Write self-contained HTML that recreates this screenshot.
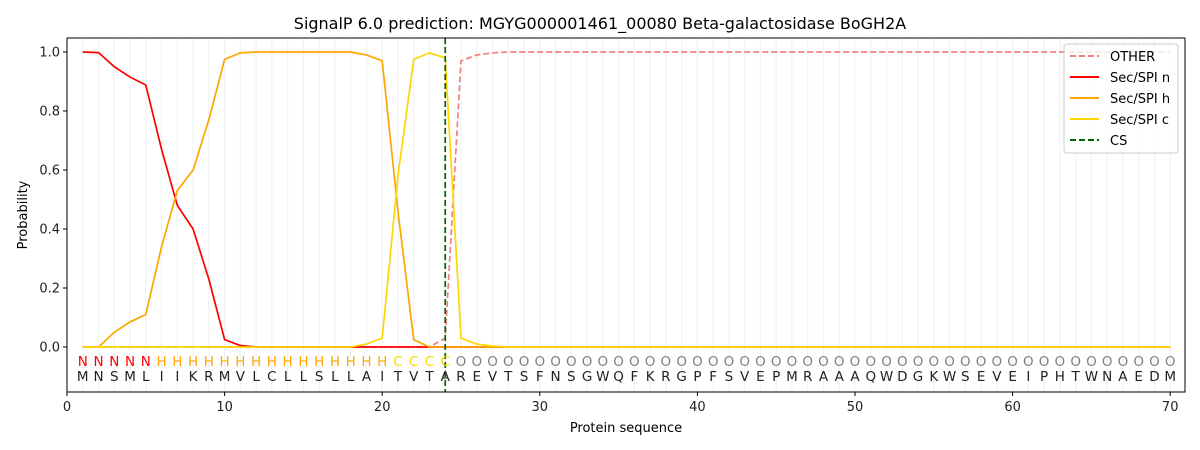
<!DOCTYPE html>
<html><head><meta charset="utf-8"><style>body{margin:0;background:#fff}svg{display:block;font-family:"DejaVu Sans","Liberation Sans",sans-serif}</style></head>
<body>
<svg id="s" width="1200" height="450" xmlns="http://www.w3.org/2000/svg">
<rect width="1200" height="450" fill="#fff"/>
<g id="grid"></g>
<g id="lines"></g>
<g id="letters" font-size="13.5" text-anchor="middle"></g>
<rect x="67" y="38" width="1118" height="354" fill="none" stroke="#000" stroke-width="1"/>
<g id="ticks" font-size="13" fill="#222"></g>
<text x="600" y="29" font-size="16" text-anchor="middle">SignalP 6.0 prediction: MGYG000001461_00080 Beta-galactosidase BoGH2A</text>
<text x="626" y="432" font-size="13" text-anchor="middle">Protein sequence</text>
<text transform="translate(27,215) rotate(-90)" font-size="13" text-anchor="middle">Probability</text>
<g font-size="13">
<rect x="1064" y="44" width="114" height="109" rx="3" fill="#fff" fill-opacity="0.8" stroke="#ccc"/>
<line x1="1070" y1="56" x2="1099" y2="56" stroke="#f08080" stroke-width="2" stroke-dasharray="6,3"/><text x="1110" y="61">OTHER</text>
<line x1="1070" y1="77" x2="1099" y2="77" stroke="#ff0000" stroke-width="2"/><text x="1110" y="82">Sec/SPI n</text>
<line x1="1070" y1="98" x2="1099" y2="98" stroke="#ffa500" stroke-width="2"/><text x="1110" y="103">Sec/SPI h</text>
<line x1="1070" y1="119" x2="1099" y2="119" stroke="#ffd700" stroke-width="2"/><text x="1110" y="124">Sec/SPI c</text>
<line x1="1070" y1="140" x2="1099" y2="140" stroke="#006400" stroke-width="2" stroke-dasharray="6,3"/><text x="1110" y="145">CS</text>
</g>
</svg>
<script>
const NS="http://www.w3.org/2000/svg";
const X=i=>67+i*15.76, Y=p=>347-p*295;
function el(t,a,p,txt){const e=document.createElementNS(NS,t);for(const k in a)e.setAttribute(k,a[k]);if(txt!==undefined)e.textContent=txt;document.getElementById(p).appendChild(e);return e;}
for(let i=1;i<=70;i++)el('line',{x1:X(i),x2:X(i),y1:38,y2:392,stroke:'#f2f2f2','stroke-width':1.2},'grid');
const seq="MNSMLIIKRMVLCLLSLLAITVTAREVTSFNSGWQFKRGPFSVEPMRAAAQWDGKWSEVEIPHTWNAEDM";
const lab="NNNNNHHHHHHHHHHHHHHHCCCCOOOOOOOOOOOOOOOOOOOOOOOOOOOOOOOOOOOOOOOOOOOOOO";
const col={N:'#ff0000',H:'#ffa500',C:'#ffd700',O:'#808080'};
for(let i=0;i<70;i++){el('text',{x:X(i+1),y:366,fill:col[lab[i]]},'letters',lab[i]);el('text',{x:X(i+1),y:381,fill:'#222'},'letters',seq[i]);}
function arr(m){const a=[];for(let i=1;i<=70;i++)a.push(m[i]!==undefined?m[i]:(m.d instanceof Function?m.d(i):0));return a;}
const other=arr({24:0.03,25:0.97,26:0.99,27:0.997,d:i=>i>27?1:0});
const n=arr({1:1,2:0.998,3:0.95,4:0.915,5:0.888,6:0.67,7:0.48,8:0.40,9:0.23,10:0.025,11:0.005});
const h=arr({3:0.05,4:0.085,5:0.11,6:0.34,7:0.53,8:0.60,9:0.77,10:0.975,11:0.997,12:1,13:1,14:1,15:1,16:1,17:1,18:1,19:0.99,20:0.97,21:0.46,22:0.025});
const c=arr({19:0.01,20:0.03,21:0.58,22:0.975,23:0.997,24:0.98,25:0.03,26:0.01,27:0.003});
function pl(a,s,dash){el('polyline',{points:a.map((p,i)=>X(i+1)+','+Y(p)).join(' '),fill:'none',stroke:s,'stroke-width':1.7,'stroke-dasharray':dash||'none'},'lines');}
pl(other,'#f08080','6,3');pl(n,'#ff0000');pl(h,'#ffa500');pl(c,'#ffd700');
el('line',{x1:X(24),x2:X(24),y1:38,y2:392,stroke:'#006400','stroke-width':1.7,'stroke-dasharray':'6,3'},'lines');
for(let v=0;v<=70;v+=10){el('line',{x1:X(v),x2:X(v),y1:392,y2:396,stroke:'#000'},'ticks');el('text',{x:X(v),y:411,'text-anchor':'middle'},'ticks',v);}
for(let k=0;k<=5;k++){const p=k*0.2;el('line',{x1:63,x2:67,y1:Y(p),y2:Y(p),stroke:'#000'},'ticks');el('text',{x:60,y:Y(p)+4.5,'text-anchor':'end'},'ticks',p.toFixed(1));}
</script>
</body></html>
